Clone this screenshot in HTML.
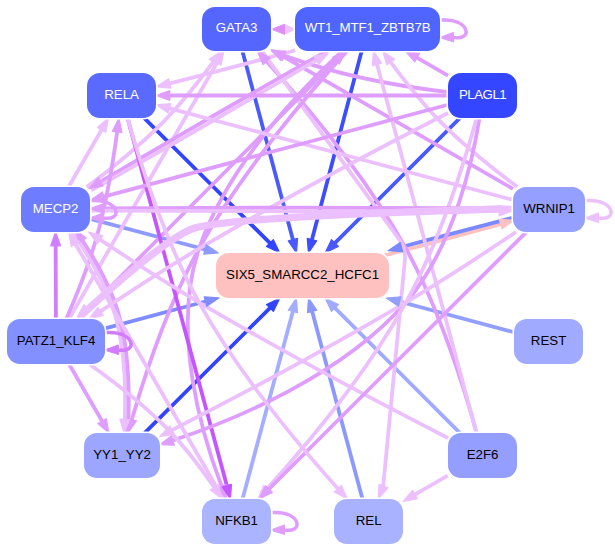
<!DOCTYPE html><html><head><meta charset="utf-8"><style>html,body{margin:0;padding:0;background:#fff;overflow:hidden}svg{display:block}text{font-family:"Liberation Sans",sans-serif;font-size:13.3px}</style></head><body><svg width="615" height="551" viewBox="0 0 615 551"><path d="M380.28,256.52 C420.02,246.12 467.11,233.43 501.42,223.84" stroke="#ffc0c0" stroke-width="3.8" fill="none"/><path d="M242.35,50.88 C253.81,93.70 279.31,188.88 293.13,240.53" stroke="#4a5aff" stroke-width="3.8" fill="none"/><path d="M361.72,50.88 C350.44,93.70 325.35,188.88 311.72,240.53" stroke="#3d4cff" stroke-width="3.8" fill="none"/><path d="M144.05,117.93 C175.89,149.60 234.17,207.56 270.49,243.67" stroke="#3344ff" stroke-width="3.8" fill="none"/><path d="M460.06,117.93 C428.40,149.60 370.44,207.56 334.34,243.67" stroke="#4858ff" stroke-width="3.8" fill="none"/><path d="M144.50,433.07 C176.25,401.40 234.37,343.45 270.57,307.34" stroke="#3344ff" stroke-width="3.8" fill="none"/><path d="M90.36,218.82 C120.37,226.84 165.13,238.80 205.82,249.66" stroke="#8e9aff" stroke-width="3.8" fill="none"/><path d="M512.26,217.87 C482.79,225.33 439.99,236.62 400.73,247.25" stroke="#7b89ff" stroke-width="3.8" fill="none"/><path d="M105.28,328.30 C134.20,320.57 171.72,310.52 206.25,301.27" stroke="#7f8cff" stroke-width="3.8" fill="none"/><path d="M513.77,332.18 C483.88,324.17 439.30,312.21 398.78,301.34" stroke="#939fff" stroke-width="3.8" fill="none"/><path d="M460.06,433.07 C428.40,401.40 370.44,343.45 334.34,307.34" stroke="#a0aaff" stroke-width="3.8" fill="none"/><path d="M242.60,498.80 C254.16,455.68 279.37,361.71 293.11,310.49" stroke="#a4adff" stroke-width="3.8" fill="none"/><path d="M362.40,498.80 C350.84,455.68 325.63,361.71 311.89,310.49" stroke="#8a98ff" stroke-width="3.8" fill="none"/><path d="M68.98,319.02 C100.34,264.73 180.37,126.18 217.29,62.25" stroke="#ecc0ff" stroke-width="3.8" fill="none"/><path d="M86.65,187.13 C108.96,170.44 139.12,146.44 162.90,122.34 C181.55,103.42 200.06,79.93 213.84,61.24" stroke="#ecc0ff" stroke-width="3.8" fill="none"/><path d="M512.94,188.87 C463.53,160.56 371.68,107.84 282.74,56.15" stroke="#de9dff" stroke-width="3.8" fill="none"/><path d="M448.00,92.12 C409.53,87.60 345.59,77.86 283.33,55.39" stroke="#de9dff" stroke-width="3.8" fill="none"/><path d="M476.56,432.80 C465.78,393.67 440.87,311.64 406.00,248.67 C365.78,176.02 302.86,101.60 266.06,60.74" stroke="#de9dff" stroke-width="3.8" fill="none"/><path d="M261.75,50.85 C261.75,50.85 398.93,238.97 398.93,238.97 C403.60,245.37 405.61,252.73 404.85,260.61 C404.85,260.61 383.13,486.93 383.13,486.93" stroke="#ecc0ff" stroke-width="3.8" fill="none"/><path d="M346.86,51.13 C312.36,89.07 242.51,170.02 199.00,248.67 C167.52,305.54 143.95,377.86 131.63,420.19" stroke="#de9dff" stroke-width="3.8" fill="none"/><path d="M331.07,48.60 C273.55,80.94 161.89,145.49 99.80,182.25" stroke="#de9dff" stroke-width="3.8" fill="none"/><path d="M91.32,190.24 C146.77,159.07 253.60,97.35 316.92,59.95" stroke="#ecc0ff" stroke-width="3.8" fill="none"/><path d="M78.40,319.02 C133.09,264.17 273.52,123.29 336.32,60.28" stroke="#de9dff" stroke-width="3.8" fill="none"/><path d="M476.32,432.57 C457.32,362.10 399.68,148.33 376.90,63.87" stroke="#ecc0ff" stroke-width="3.8" fill="none"/><path d="M517.21,186.80 C494.85,170.13 464.79,146.31 441.10,122.34 C422.42,103.44 403.92,79.95 390.14,61.26" stroke="#ecc0ff" stroke-width="3.8" fill="none"/><path d="M447.99,75.55 C438.09,69.81 427.08,63.46 416.48,57.33" stroke="#de9dff" stroke-width="3.8" fill="none"/><path d="M295.18,50.25 C289.34,51.90 283.52,53.52 277.90,55.07 C241.46,65.09 200.04,75.75 168.99,83.63" stroke="#ecc0ff" stroke-width="3.8" fill="none"/><path d="M342.40,50.89 C302.84,87.24 227.57,164.47 199.00,248.67 C171.04,331.07 201.78,434.20 221.89,486.94" stroke="#de9dff" stroke-width="3.8" fill="none"/><path d="M447.89,95.51 C382.92,95.51 242.67,95.51 168.97,95.51" stroke="#de9dff" stroke-width="3.8" fill="none"/><path d="M512.91,199.88 C435.76,179.31 254.73,131.03 168.62,108.07" stroke="#ecc0ff" stroke-width="3.8" fill="none"/><path d="M68.53,186.97 C78.03,170.58 91.05,148.09 101.81,129.52" stroke="#ecc0ff" stroke-width="3.8" fill="none"/><path d="M66.27,318.97 C75.47,297.96 88.75,265.58 96.90,236.34 C106.70,201.21 113.35,160.00 117.24,131.28" stroke="#de9dff" stroke-width="3.8" fill="none"/><path d="M127.68,118.41 C146.68,188.78 204.29,402.19 227.08,486.61" stroke="#c455ff" stroke-width="3.8" fill="none"/><path d="M72.32,231.90 C86.58,252.30 106.09,283.84 115.03,314.66 C125.11,349.42 125.87,390.99 124.72,419.93" stroke="#ecc0ff" stroke-width="3.8" fill="none"/><polyline points="126.01,433.00 128.32,420.06 128.42,417.12 128.52,414.08 128.60,410.97 128.66,407.78 128.70,404.53 128.72,401.21 128.72,397.84 128.69,394.41 128.64,390.93 128.56,387.40 128.45,383.83 128.31,380.23 128.13,376.59 127.92,372.92 127.68,369.22 127.40,365.51 127.07,361.77 126.71,358.03 126.30,354.28 125.85,350.52 125.35,346.76 124.81,343.01 124.21,339.27 123.56,335.54 122.86,331.83 122.11,328.13 121.29,324.47 120.42,320.83 119.49,317.23 118.49,313.66 117.54,310.51 116.52,307.36 115.44,304.21 114.30,301.07 113.11,297.94 111.86,294.82 110.56,291.71 109.21,288.62 107.83,285.55 106.40,282.50 104.94,279.47 103.45,276.47 101.94,273.50 100.39,270.56 98.83,267.65 97.25,264.78 95.65,261.95 94.05,259.16 92.44,256.41 90.82,253.71 89.21,251.06 87.60,248.46 85.99,245.92 84.40,243.43 82.82,241.00 82.45,240.44" stroke="#de9dff" stroke-width="3.8" fill="none" stroke-linejoin="round"/><path d="M447.91,104.74 C371.81,125.05 189.71,173.67 102.98,196.83" stroke="#de9dff" stroke-width="3.8" fill="none"/><path d="M447.96,113.02 C394.08,140.60 287.04,196.42 199.00,248.67 C165.07,268.80 127.70,293.15 99.67,311.84" stroke="#ecc0ff" stroke-width="3.8" fill="none"/><path d="M479.49,118.06 C472.93,159.17 453.96,247.13 406.00,302.33 C342.42,375.54 234.99,419.76 172.07,440.75" stroke="#de9dff" stroke-width="3.8" fill="none"/><path d="M476.56,118.20 C465.80,157.36 440.91,239.39 406.00,302.33 C366.01,374.47 303.55,448.30 266.66,489.19" stroke="#ecc0ff" stroke-width="3.8" fill="none"/><path d="M513.11,208.44 C425.73,207.34 201.87,207.30 103.31,208.31" stroke="#de9dff" stroke-width="3.8" fill="none"/><path d="M90.20,210.53 C176.32,211.64 400.07,211.71 499.79,210.70" stroke="#ecc0ff" stroke-width="3.8" fill="none"/><path d="M55.91,319.11 C55.83,298.82 55.72,268.57 55.63,245.00" stroke="#d27cff" stroke-width="3.8" fill="none"/><path d="M223.48,499.06 C192.12,445.00 112.22,307.29 75.06,243.22" stroke="#ecc0ff" stroke-width="3.8" fill="none"/><path d="M447.98,437.97 C394.10,410.36 287.08,354.51 199.00,302.33 C164.97,282.18 127.47,257.84 99.34,239.15" stroke="#ecc0ff" stroke-width="3.8" fill="none"/><path d="M515.97,232.04 C487.29,251.34 444.45,279.54 406.00,302.33 C325.26,350.21 228.53,401.04 171.33,430.45" stroke="#ecc0ff" stroke-width="3.8" fill="none"/><path d="M526.52,231.94 C471.82,286.57 331.57,426.59 268.30,489.75" stroke="#de9dff" stroke-width="3.8" fill="none"/><path d="M79.87,319.07 C111.77,289.62 167.37,240.40 192.54,230.62 C220.43,219.79 408.96,213.28 499.94,210.74" stroke="#ecc0ff" stroke-width="3.8" fill="none"/><polyline points="513.00,207.85 499.84,207.24 490.43,207.51 480.42,207.80 469.87,208.13 458.85,208.47 447.40,208.85 435.59,209.25 423.48,209.68 411.11,210.13 398.56,210.61 385.86,211.12 373.10,211.66 360.31,212.22 347.56,212.81 334.90,213.43 322.40,214.08 310.10,214.75 298.07,215.45 286.37,216.18 275.04,216.94 264.15,217.73 253.76,218.54 243.91,219.39 234.67,220.26 226.10,221.16 218.24,222.09 211.14,223.06 204.87,224.05 199.45,225.09 194.93,226.18 191.34,227.34 188.48,228.54 185.53,229.97 182.43,231.62 179.19,233.49 175.81,235.56 172.30,237.83 168.66,240.27 164.92,242.88 161.07,245.64 157.14,248.55 153.12,251.59 149.04,254.74 144.91,257.99 140.73,261.34 136.51,264.76 132.28,268.25 128.04,271.79 123.80,275.36 119.58,278.96 115.38,282.58 111.22,286.19 107.11,289.79 103.06,293.36 99.09,296.89 95.21,300.37 91.42,303.78 87.74,307.11 86.93,307.85" stroke="#ecc0ff" stroke-width="3.8" fill="none" stroke-linejoin="round"/><path d="M69.03,364.03 C78.53,380.42 91.55,402.91 102.31,421.49" stroke="#de9dff" stroke-width="3.8" fill="none"/><path d="M89.53,364.19 C112.66,380.66 143.40,404.28 167.23,428.67 C184.92,446.78 201.96,469.52 214.71,487.96" stroke="#ecc0ff" stroke-width="3.8" fill="none"/><path d="M127.57,118.20 C138.56,157.33 163.91,239.36 199.00,302.33 C239.15,374.39 301.55,448.25 338.39,489.16" stroke="#ecc0ff" stroke-width="3.8" fill="none"/><path d="M447.67,475.67 C437.18,481.74 425.49,488.51 414.40,494.94" stroke="#ecc0ff" stroke-width="3.8" fill="none"/><polygon points="501.93,228.72 513.90,220.33 499.32,219.42" fill="#ffc0c0" stroke="#ffc0c0" stroke-width="1.2" stroke-linejoin="round"/><polygon points="297.56,238.39 296.47,252.96 288.23,240.88" fill="#4a5aff" stroke="#4a5aff" stroke-width="1.2" stroke-linejoin="round"/><polygon points="316.64,240.86 308.44,252.96 307.29,238.39" fill="#3d4cff" stroke="#3d4cff" stroke-width="1.2" stroke-linejoin="round"/><polygon points="273.28,239.63 279.65,252.78 266.47,246.47" fill="#3344ff" stroke="#3344ff" stroke-width="1.2" stroke-linejoin="round"/><polygon points="338.38,246.45 325.22,252.78 331.55,239.62" fill="#4858ff" stroke="#4858ff" stroke-width="1.2" stroke-linejoin="round"/><polygon points="266.54,304.54 279.72,298.22 273.35,311.39" fill="#3344ff" stroke="#3344ff" stroke-width="1.2" stroke-linejoin="round"/><polygon points="206.20,244.77 218.29,253.00 203.72,254.10" fill="#8e9aff" stroke="#8e9aff" stroke-width="1.2" stroke-linejoin="round"/><polygon points="400.18,242.39 388.13,250.67 402.72,251.71" fill="#7b89ff" stroke="#7b89ff" stroke-width="1.2" stroke-linejoin="round"/><polygon points="204.24,296.81 218.83,297.91 206.74,306.14" fill="#7f8cff" stroke="#7f8cff" stroke-width="1.2" stroke-linejoin="round"/><polygon points="398.44,306.24 386.36,298.00 400.95,296.91" fill="#939fff" stroke="#939fff" stroke-width="1.2" stroke-linejoin="round"/><polygon points="331.55,311.40 325.22,298.22 338.38,304.57" fill="#a0aaff" stroke="#a0aaff" stroke-width="1.2" stroke-linejoin="round"/><polygon points="288.18,310.23 296.42,298.16 297.51,312.73" fill="#a4adff" stroke="#a4adff" stroke-width="1.2" stroke-linejoin="round"/><polygon points="307.49,312.73 308.58,298.16 316.82,310.23" fill="#8a98ff" stroke="#8a98ff" stroke-width="1.2" stroke-linejoin="round"/><polygon points="212.79,60.39 223.88,50.85 221.16,65.22" fill="#ecc0ff" stroke="#ecc0ff" stroke-width="1.2" stroke-linejoin="round"/><polygon points="209.36,59.20 221.38,50.86 217.17,64.87" fill="#ecc0ff" stroke="#ecc0ff" stroke-width="1.2" stroke-linejoin="round"/><polygon points="280.85,60.63 271.36,49.52 285.71,52.28" fill="#de9dff" stroke="#de9dff" stroke-width="1.2" stroke-linejoin="round"/><polygon points="282.54,60.26 271.32,50.89 285.93,51.21" fill="#de9dff" stroke="#de9dff" stroke-width="1.2" stroke-linejoin="round"/><polygon points="263.00,64.56 257.29,51.11 270.15,58.06" fill="#de9dff" stroke="#de9dff" stroke-width="1.2" stroke-linejoin="round"/><polygon points="387.96,487.84 378.40,498.91 378.98,484.30" fill="#ecc0ff" stroke="#ecc0ff" stroke-width="1.2" stroke-linejoin="round"/><polygon points="136.46,420.87 128.03,432.81 127.17,418.22" fill="#de9dff" stroke="#de9dff" stroke-width="1.2" stroke-linejoin="round"/><polygon points="98.22,177.57 88.82,188.77 103.15,185.89" fill="#de9dff" stroke="#de9dff" stroke-width="1.2" stroke-linejoin="round"/><polygon points="318.80,64.46 328.21,53.27 313.87,56.15" fill="#ecc0ff" stroke="#ecc0ff" stroke-width="1.2" stroke-linejoin="round"/><polygon points="332.55,57.23 345.71,50.85 339.39,64.04" fill="#de9dff" stroke="#de9dff" stroke-width="1.2" stroke-linejoin="round"/><polygon points="372.37,65.60 373.43,51.02 381.70,63.08" fill="#ecc0ff" stroke="#ecc0ff" stroke-width="1.2" stroke-linejoin="round"/><polygon points="386.80,64.88 382.60,50.88 394.62,59.21" fill="#ecc0ff" stroke="#ecc0ff" stroke-width="1.2" stroke-linejoin="round"/><polygon points="414.72,61.88 405.18,50.80 419.55,53.52" fill="#de9dff" stroke="#de9dff" stroke-width="1.2" stroke-linejoin="round"/><polygon points="170.93,88.12 156.37,86.81 168.55,78.75" fill="#ecc0ff" stroke="#ecc0ff" stroke-width="1.2" stroke-linejoin="round"/><polygon points="226.06,484.31 226.62,498.92 217.06,487.86" fill="#de9dff" stroke="#de9dff" stroke-width="1.2" stroke-linejoin="round"/><polygon points="169.81,100.33 156.01,95.51 169.81,90.67" fill="#de9dff" stroke="#de9dff" stroke-width="1.2" stroke-linejoin="round"/><polygon points="168.23,112.96 156.14,104.74 170.71,103.63" fill="#ecc0ff" stroke="#ecc0ff" stroke-width="1.2" stroke-linejoin="round"/><polygon points="97.39,127.51 108.49,117.97 105.76,132.34" fill="#ecc0ff" stroke="#ecc0ff" stroke-width="1.2" stroke-linejoin="round"/><polygon points="112.36,131.31 118.93,118.25 121.95,132.55" fill="#de9dff" stroke="#de9dff" stroke-width="1.2" stroke-linejoin="round"/><polygon points="231.49,484.43 230.43,499.00 222.16,486.94" fill="#c455ff" stroke="#c455ff" stroke-width="1.2" stroke-linejoin="round"/><polygon points="129.58,419.50 124.03,433.03 119.93,418.99" fill="#ecc0ff" stroke="#ecc0ff" stroke-width="1.2" stroke-linejoin="round"/><polygon points="75.27,229.85 86.15,237.93 78.75,242.95" fill="#de9dff" stroke="#de9dff" stroke-width="1.2" stroke-linejoin="round"/><polygon points="104.98,201.29 90.40,200.19 102.49,191.96" fill="#de9dff" stroke="#de9dff" stroke-width="1.2" stroke-linejoin="round"/><polygon points="103.19,315.30 89.03,318.97 97.81,307.28" fill="#ecc0ff" stroke="#ecc0ff" stroke-width="1.2" stroke-linejoin="round"/><polygon points="174.36,445.08 159.73,444.75 171.36,435.90" fill="#de9dff" stroke="#de9dff" stroke-width="1.2" stroke-linejoin="round"/><polygon points="270.71,491.90 257.85,498.86 263.58,485.39" fill="#ecc0ff" stroke="#ecc0ff" stroke-width="1.2" stroke-linejoin="round"/><polygon points="104.00,203.47 90.26,208.45 104.11,213.13" fill="#de9dff" stroke="#de9dff" stroke-width="1.2" stroke-linejoin="round"/><polygon points="499.26,215.54 513.00,210.56 499.16,205.88" fill="#ecc0ff" stroke="#ecc0ff" stroke-width="1.2" stroke-linejoin="round"/><polygon points="50.80,245.82 55.59,232.00 60.46,245.79" fill="#d27cff" stroke="#d27cff" stroke-width="1.2" stroke-linejoin="round"/><polygon points="71.38,246.52 68.64,232.16 79.74,241.67" fill="#ecc0ff" stroke="#ecc0ff" stroke-width="1.2" stroke-linejoin="round"/><polygon points="97.46,243.69 88.66,232.02 102.82,235.66" fill="#ecc0ff" stroke="#ecc0ff" stroke-width="1.2" stroke-linejoin="round"/><polygon points="174.23,434.39 159.76,436.39 169.83,425.79" fill="#ecc0ff" stroke="#ecc0ff" stroke-width="1.2" stroke-linejoin="round"/><polygon points="272.37,492.51 259.19,498.85 265.54,485.68" fill="#de9dff" stroke="#de9dff" stroke-width="1.2" stroke-linejoin="round"/><polygon points="499.22,205.93 513.14,210.38 499.48,215.59" fill="#ecc0ff" stroke="#ecc0ff" stroke-width="1.2" stroke-linejoin="round"/><polygon points="77.50,316.50 83.91,304.56 89.95,311.15" fill="#ecc0ff" stroke="#ecc0ff" stroke-width="1.2" stroke-linejoin="round"/><polygon points="106.26,418.66 108.99,433.03 97.89,423.51" fill="#de9dff" stroke="#de9dff" stroke-width="1.2" stroke-linejoin="round"/><polygon points="218.32,484.68 222.06,498.81 210.33,490.10" fill="#ecc0ff" stroke="#ecc0ff" stroke-width="1.2" stroke-linejoin="round"/><polygon points="341.47,485.37 347.18,498.83 334.32,491.87" fill="#ecc0ff" stroke="#ecc0ff" stroke-width="1.2" stroke-linejoin="round"/><polygon points="417.46,498.73 403.11,501.47 412.63,490.37" fill="#ecc0ff" stroke="#ecc0ff" stroke-width="1.2" stroke-linejoin="round"/><polygon points="295.2,29.3 284.3,24.3 284.3,34.3" fill="#efc4ff" stroke="#efc4ff" stroke-width="1" stroke-linejoin="round"/><polygon points="271.6,29.3 284.6,24.3 284.6,34.3" fill="#dd8ff9" stroke="#dd8ff9" stroke-width="1" stroke-linejoin="round"/><path d="M441.30,20.00 C470.00,18.00 474.00,42.00 452.00,37.20" stroke="#de9dff" stroke-width="3.5" fill="none"/><polygon points="439.50,37.60 453.36,32.40 453.64,42.00" fill="#de9dff" stroke="#de9dff" stroke-width="1" stroke-linejoin="round"/><path d="M586.30,200.50 C615.00,198.50 619.00,222.50 597.00,217.70" stroke="#ecc0ff" stroke-width="3.5" fill="none"/><polygon points="584.50,218.10 598.36,212.90 598.64,222.50" fill="#ecc0ff" stroke="#ecc0ff" stroke-width="1" stroke-linejoin="round"/><path d="M106.30,332.50 C135.00,330.50 139.00,354.50 117.00,349.70" stroke="#d27cff" stroke-width="3.5" fill="none"/><polygon points="104.50,350.10 118.36,344.90 118.64,354.50" fill="#d27cff" stroke="#d27cff" stroke-width="1" stroke-linejoin="round"/><path d="M272.30,512.50 C301.00,510.50 305.00,534.50 283.00,529.70" stroke="#de9dff" stroke-width="3.5" fill="none"/><polygon points="270.50,530.10 284.36,524.90 284.64,534.50" fill="#de9dff" stroke="#de9dff" stroke-width="1" stroke-linejoin="round"/><path d="M91.30,200.50 C120.00,198.50 124.00,222.50 102.00,217.70" stroke="#de9dff" stroke-width="3.5" fill="none"/><polygon points="89.50,218.10 103.36,212.90 103.64,222.50" fill="#de9dff" stroke="#de9dff" stroke-width="1" stroke-linejoin="round"/><rect x="200.4" y="5.4" width="72.2" height="47.2" rx="14.6" ry="14.6" fill="#fff"/><rect x="202" y="7" width="69" height="44" rx="13" ry="13" fill="#5566ff"/><text x="236.6" y="32.3" fill="#fff" text-anchor="middle">GATA3</text><rect x="293.4" y="5.4" width="148.2" height="47.2" rx="14.6" ry="14.6" fill="#fff"/><rect x="295" y="7" width="145" height="44" rx="13" ry="13" fill="#5064ff"/><text x="367.6" y="32.3" fill="#fff" text-anchor="middle" letter-spacing="-0.13">WT1_MTF1_ZBTB7B</text><rect x="85.4" y="71.4" width="72.2" height="48.2" rx="14.6" ry="14.6" fill="#fff"/><rect x="87" y="73" width="69" height="45" rx="13" ry="13" fill="#5a6aff"/><text x="121.6" y="98.8" fill="#fff" text-anchor="middle">RELA</text><rect x="446.4" y="71.4" width="72.2" height="48.2" rx="14.6" ry="14.6" fill="#fff"/><rect x="448" y="73" width="69" height="45" rx="13" ry="13" fill="#3446ff"/><text x="482.6" y="98.8" fill="#fff" text-anchor="middle" letter-spacing="-0.5">PLAGL1</text><rect x="19.4" y="185.4" width="72.2" height="48.2" rx="14.6" ry="14.6" fill="#fff"/><rect x="21" y="187" width="69" height="45" rx="13" ry="13" fill="#6e7cff"/><text x="55.6" y="212.8" fill="#fff" text-anchor="middle">MECP2</text><rect x="511.4" y="185.4" width="75.2" height="48.2" rx="14.6" ry="14.6" fill="#fff"/><rect x="513" y="187" width="72" height="45" rx="13" ry="13" fill="#949fff"/><text x="549.1" y="212.8" fill="#000" text-anchor="middle">WRNIP1</text><rect x="214.4" y="251.4" width="176.2" height="48.2" rx="14.6" ry="14.6" fill="#fff"/><rect x="216" y="253" width="173" height="45" rx="13" ry="13" fill="#ffc0c0"/><text x="302.6" y="278.8" fill="#000" text-anchor="middle">SIX5_SMARCC2_HCFC1</text><rect x="5.4" y="317.4" width="101.2" height="48.2" rx="14.6" ry="14.6" fill="#fff"/><rect x="7" y="319" width="98" height="45" rx="13" ry="13" fill="#8390ff"/><text x="56.1" y="344.8" fill="#000" text-anchor="middle">PATZ1_KLF4</text><rect x="512.4" y="317.4" width="72.2" height="48.2" rx="14.6" ry="14.6" fill="#fff"/><rect x="514" y="319" width="69" height="45" rx="13" ry="13" fill="#a0aaff"/><text x="548.6" y="344.8" fill="#000" text-anchor="middle">REST</text><rect x="82.4" y="431.4" width="79.2" height="48.2" rx="14.6" ry="14.6" fill="#fff"/><rect x="84" y="433" width="76" height="45" rx="13" ry="13" fill="#9ca6ff"/><text x="122.1" y="458.8" fill="#000" text-anchor="middle">YY1_YY2</text><rect x="446.4" y="431.4" width="72.2" height="48.2" rx="14.6" ry="14.6" fill="#fff"/><rect x="448" y="433" width="69" height="45" rx="13" ry="13" fill="#949eff"/><text x="482.6" y="458.8" fill="#000" text-anchor="middle">E2F6</text><rect x="200.4" y="497.4" width="72.2" height="48.2" rx="14.6" ry="14.6" fill="#fff"/><rect x="202" y="499" width="69" height="45" rx="13" ry="13" fill="#aab4ff"/><text x="236.6" y="524.8" fill="#000" text-anchor="middle">NFKB1</text><rect x="332.4" y="497.4" width="72.2" height="48.2" rx="14.6" ry="14.6" fill="#fff"/><rect x="334" y="499" width="69" height="45" rx="13" ry="13" fill="#a9b2ff"/><text x="368.6" y="524.8" fill="#000" text-anchor="middle">REL</text></svg></body></html>
